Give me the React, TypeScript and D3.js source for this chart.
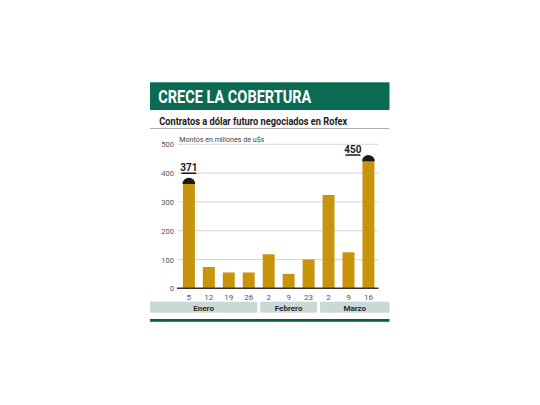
import React from "react";
import * as d3 from "d3";

const categories = ["5", "12", "19", "26", "2", "9", "23", "2", "9", "16"];
const values = [371, 74, 55, 55, 118, 50, 100, 324, 125, 450];
const months = ["Enero", "Febrero", "Marzo"];
const monthStart = [0, 4, 7];
const monthEnd = [3, 6, 9];
const yTicks = [0, 100, 200, 300, 400, 500];
const highlighted = [0, 9];

const title = "CRECE LA COBERTURA";
const subtitle = "Contratos a dólar futuro negociados en Rofex";
const unitLabel = "Montos en millones de u$s";

const NARROW = "'Liberation Sans Narrow', 'Roboto', 'Liberation Sans', sans-serif";

export default function App() {
  const x = d3
    .scaleBand<number>()
    .domain(categories.map((_, i) => i))
    .range([178.3, 379])
    .paddingInner(0.4)
    .paddingOuter(0.23);
  const y = d3.scaleLinear().domain([0, 500]).range([288.3, 144.3]);
  const bw = x.bandwidth();
  const step = x.step();
  const left = 150;
  const right = 389.5;

  const bandEdges = months.map((_, m) => {
    const x0 = m === 0 ? left : (x(monthStart[m])! - (step - bw) / 2) + 1.5;
    const x1 =
      m === months.length - 1 ? right : x(monthEnd[m])! + bw + (step - bw) / 2 - 1.5;
    return [x0, x1];
  });

  return (
    <svg
      width={540}
      height={405}
      style={{ position: "absolute", left: 0, top: 0, background: "#fff" }}
    >
      {/* title box */}
      <rect x={left} y={82.3} width={right - left} height={27.7} fill="#0b6b52" />
      <text
        x={158.3}
        y={102.5}
        fill="#fff"
        fontFamily={NARROW}
        fontWeight="bold"
        fontSize={19}
        textLength={153}
        lengthAdjust="spacingAndGlyphs"
      >
        {title}
      </text>
      <text
        x={159.3}
        y={125}
        fill="#1a1a1a"
        fontFamily={NARROW}
        fontWeight="bold"
        fontSize={10}
        textLength={188}
        lengthAdjust="spacingAndGlyphs"
      >
        {subtitle}
      </text>
      <line x1={left} x2={right} y1={128.5} y2={128.5} stroke="#999" strokeWidth={0.8} />
      <text
        x={179.3}
        y={141.5}
        fill="#444"
        fontFamily={NARROW}
        fontSize={7.5}
        textLength={85}
        lengthAdjust="spacingAndGlyphs"
      >
        {unitLabel}
      </text>

      {/* grid + y ticks */}
      {yTicks.map((t) => (
        <g key={t}>
          {t > 0 && (
            <line x1={178} x2={378.5} y1={y(t)} y2={y(t)} stroke="#d6d6d6" strokeWidth={1} />
          )}
          <text
            x={174}
            y={y(t) + 3}
            textAnchor="end"
            fill="#555"
            fontFamily={NARROW}
            fontSize={7.5}
          >
            {t}
          </text>
        </g>
      ))}

      {/* bars */}
      {values.map((v, i) => (
        <rect key={i} x={x(i)} y={y(v)} width={bw} height={y(0) - y(v)} fill="#c8940c" />
      ))}

      {/* caps and labels on highlighted */}
      {highlighted.map((i) => {
        const cx = x(i)! + bw / 2;
        const cy = y(values[i]) + 2.5;
        const r = bw / 2 + 0.3;
        const lx = i === 0 ? cx : cx - 15.5;
        const ly = i === 0 ? y(values[i]) - 8.2 : y(values[i]) - 3.7;
        return (
          <g key={i}>
            <path
              d={`M${cx - r},${cy} A${r},${r} 0 0 1 ${cx + r},${cy} Z`}
              fill="#1a1a1a"
            />
            <text
              x={lx}
              y={ly - 2.3}
              textAnchor="middle"
              fill="#1a1a1a"
              fontFamily={NARROW}
              fontWeight="bold"
              fontSize={10}
            >
              {values[i]}
            </text>
            <line x1={lx - 7.5} x2={lx + 7.5} y1={ly} y2={ly} stroke="#1a1a1a" strokeWidth={1.5} />
          </g>
        );
      })}

      {/* axis line */}
      <line x1={177} x2={378.5} y1={y(0)} y2={y(0)} stroke="#333" strokeWidth={1.5} />

      {/* x labels */}
      {categories.map((c, i) => (
        <text
          key={i}
          x={x(i)! + bw / 2}
          y={299.5}
          textAnchor="middle"
          fill="#555"
          fontFamily={NARROW}
          fontSize={8}
        >
          {c}
        </text>
      ))}

      {/* month bands */}
      {months.map((m, k) => (
        <g key={m}>
          <rect
            x={bandEdges[k][0]}
            y={301.7}
            width={bandEdges[k][1] - bandEdges[k][0]}
            height={11}
            fill="#cad9d5"
          />
          <text
            x={(bandEdges[k][0] + bandEdges[k][1]) / 2}
            y={310.6}
            textAnchor="middle"
            fill="#2a2a2a"
            fontFamily={NARROW}
            fontWeight="bold"
            fontSize={8}
          >
            {m}
          </text>
        </g>
      ))}

      <rect x={left} y={319} width={right - left} height={2.8} fill="#0b5e4a" />
    </svg>
  );
}
